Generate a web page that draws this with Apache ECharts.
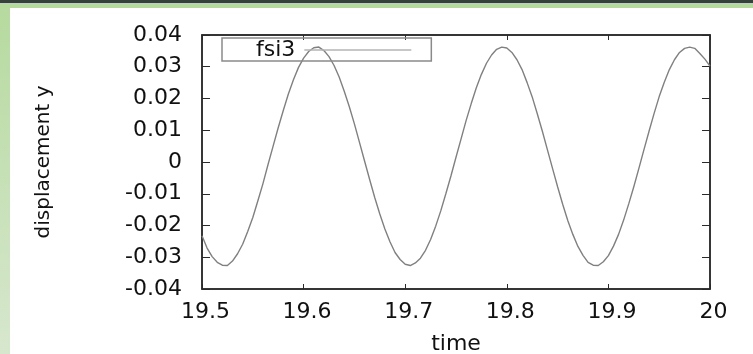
<!DOCTYPE html>
<html>
<head>
<meta charset="utf-8">
<script src="https://cdn.jsdelivr.net/npm/echarts@6/dist/echarts.min.js"></script>
<style>
  html, body { margin: 0; padding: 0; background: #ffffff; }
  #wrap { position: relative; width: 753px; height: 354px; overflow: hidden; background: #ffffff; }
  #topDark { position: absolute; left: 0; top: 0; width: 753px; height: 3px; background: #34423a; }
  #topGreen { position: absolute; left: 0; top: 3px; width: 753px; height: 5px; background: #b4da9c; }
  #leftGreen { position: absolute; left: 0; top: 8px; width: 10px; height: 346px;
               background: linear-gradient(to bottom, #b6da9f, #d7e7ce); }
  #chart { position: absolute; left: 0; top: 0; width: 753px; height: 354px; }
</style>
</head>
<body>
<div id="wrap">
  <div id="topDark"></div>
  <div id="topGreen"></div>
  <div id="leftGreen"></div>
  <div id="chart"></div>
</div>
<script>
// ---- data ----
var seriesName = 'fsi3';
var xAxisTitle = 'time';
var yAxisTitle = 'displacement y';
var time = [
  19.500, 19.505, 19.510, 19.515, 19.520, 19.525, 19.530, 19.535, 19.540, 19.545,
  19.550, 19.555, 19.560, 19.565, 19.570, 19.575, 19.580, 19.585, 19.590, 19.595,
  19.600, 19.605, 19.610, 19.615, 19.620, 19.625, 19.630, 19.635, 19.640, 19.645,
  19.650, 19.655, 19.660, 19.665, 19.670, 19.675, 19.680, 19.685, 19.690, 19.695,
  19.700, 19.705, 19.710, 19.715, 19.720, 19.725, 19.730, 19.735, 19.740, 19.745,
  19.750, 19.755, 19.760, 19.765, 19.770, 19.775, 19.780, 19.785, 19.790, 19.795,
  19.800, 19.805, 19.810, 19.815, 19.820, 19.825, 19.830, 19.835, 19.840, 19.845,
  19.850, 19.855, 19.860, 19.865, 19.870, 19.875, 19.880, 19.885, 19.890, 19.895,
  19.900, 19.905, 19.910, 19.915, 19.920, 19.925, 19.930, 19.935, 19.940, 19.945,
  19.950, 19.955, 19.960, 19.965, 19.970, 19.975, 19.980, 19.985, 19.990, 19.995,
  20.000
];
var displacementY = [
  -0.0232, -0.0271, -0.0298, -0.0316, -0.0325, -0.0326, -0.0312, -0.0289, -0.0259, -0.0219,
  -0.0175, -0.0122, -0.0068, -0.0008,  0.0050,  0.0108,  0.0162,  0.0214,  0.0259,  0.0298,
   0.0327,  0.0348,  0.0360,  0.0362,  0.0351,  0.0332,  0.0304,  0.0268,  0.0223,  0.0174,
   0.0120,  0.0062,  0.0003, -0.0055, -0.0112, -0.0164, -0.0211, -0.0251, -0.0285, -0.0307,
  -0.0322, -0.0326, -0.0318, -0.0303, -0.0278, -0.0244, -0.0202, -0.0154, -0.0100, -0.0044,
   0.0015,  0.0073,  0.0131,  0.0184,  0.0234,  0.0276,  0.0311,  0.0337,  0.0355,  0.0362,
   0.0359,  0.0345,  0.0322,  0.0291,  0.0250,  0.0205,  0.0152,  0.0097,  0.0038, -0.0020,
  -0.0078, -0.0133, -0.0184, -0.0228, -0.0266, -0.0294, -0.0316, -0.0325, -0.0326, -0.0314,
  -0.0295, -0.0265, -0.0228, -0.0183, -0.0132, -0.0078, -0.0020,  0.0039,  0.0097,  0.0153,
   0.0206,  0.0251,  0.0291,  0.0322,  0.0345,  0.0358,  0.0362,  0.0358,  0.0342,  0.0324,
   0.0302
];
var xTicks = { min: 19.5, max: 20, step: 0.1 };
var yTicks = { min: -0.04, max: 0.04, step: 0.01 };

var points = time.map(function (t, i) { return [t, displacementY[i]]; });

var FONT = 'DejaVu Sans';
var chart = echarts.init(document.getElementById('chart'), null, { renderer: 'canvas' });

function fmt(v) {
  return String(Math.round(v * 1000) / 1000);
}

chart.setOption({
  animation: false,
  grid: {
    left: 202, right: 43, top: 35, bottom: 65,
    containLabel: false,
    outerBoundsMode: 'none',
    show: true, borderColor: '#2a2a2a', borderWidth: 1.5, backgroundColor: 'transparent'
  },
  legend: {
    show: true,
    data: [seriesName],
    left: 222, top: 38,
    orient: 'horizontal',
    align: 'right',
    padding: [1, 20, 0, 34],
    itemWidth: 107, itemHeight: 1.5,
    itemGap: 0,
    icon: 'rect',
    itemStyle: { color: '#b5b5b5' },
    borderColor: '#8a8a8a', borderWidth: 1.5, borderRadius: 0,
    textStyle: { fontFamily: FONT, fontSize: 22, color: '#111111', padding: [0, 4, 0, 0] }
  },
  xAxis: [{
    type: 'value',
    min: xTicks.min, max: xTicks.max, interval: xTicks.step,
    position: 'bottom',
    name: xAxisTitle, nameLocation: 'middle', nameGap: 44,
    nameTextStyle: { fontFamily: FONT, fontSize: 22, color: '#111111' },
    axisLine: { show: true, onZero: false, lineStyle: { color: '#2a2a2a', width: 1.5 } },
    axisTick: { show: true, inside: true, length: 5, lineStyle: { color: '#2a2a2a', width: 1 } },
    axisLabel: { fontFamily: FONT, fontSize: 22, color: '#111111', margin: 12, padding: [0, 0, 0, 7],
                 formatter: fmt },
    splitLine: { show: false }
  }, {
    type: 'value',
    min: xTicks.min, max: xTicks.max, interval: xTicks.step,
    position: 'top',
    axisLine: { show: true, onZero: false, lineStyle: { color: '#2a2a2a', width: 1.5 } },
    axisTick: { show: true, inside: true, length: 5, lineStyle: { color: '#2a2a2a', width: 1 } },
    axisLabel: { show: false },
    splitLine: { show: false }
  }],
  yAxis: [{
    type: 'value',
    min: yTicks.min, max: yTicks.max, interval: yTicks.step,
    position: 'left',
    name: yAxisTitle, nameLocation: 'middle', nameGap: 148, nameRotate: 90,
    nameTextStyle: { fontFamily: FONT, fontSize: 20, color: '#111111' },
    axisLine: { show: true, onZero: false, lineStyle: { color: '#2a2a2a', width: 1.5 } },
    axisTick: { show: true, inside: true, length: 8, lineStyle: { color: '#2a2a2a', width: 1 } },
    axisLabel: { fontFamily: FONT, fontSize: 22, color: '#111111', margin: 20, formatter: fmt },
    splitLine: { show: false }
  }, {
    type: 'value',
    min: yTicks.min, max: yTicks.max, interval: yTicks.step,
    position: 'right',
    axisLine: { show: true, onZero: false, lineStyle: { color: '#2a2a2a', width: 1.5 } },
    axisTick: { show: true, inside: true, length: 8, lineStyle: { color: '#2a2a2a', width: 1 } },
    axisLabel: { show: false },
    splitLine: { show: false }
  }],
  series: [{
    name: seriesName,
    type: 'line',
    xAxisIndex: 0, yAxisIndex: 0,
    data: points,
    smooth: false,
    showSymbol: false,
    symbol: 'none',
    lineStyle: { color: '#808080', width: 1.4 },
    itemStyle: { color: '#808080' }
  }]
});
</script>
</body>
</html>
